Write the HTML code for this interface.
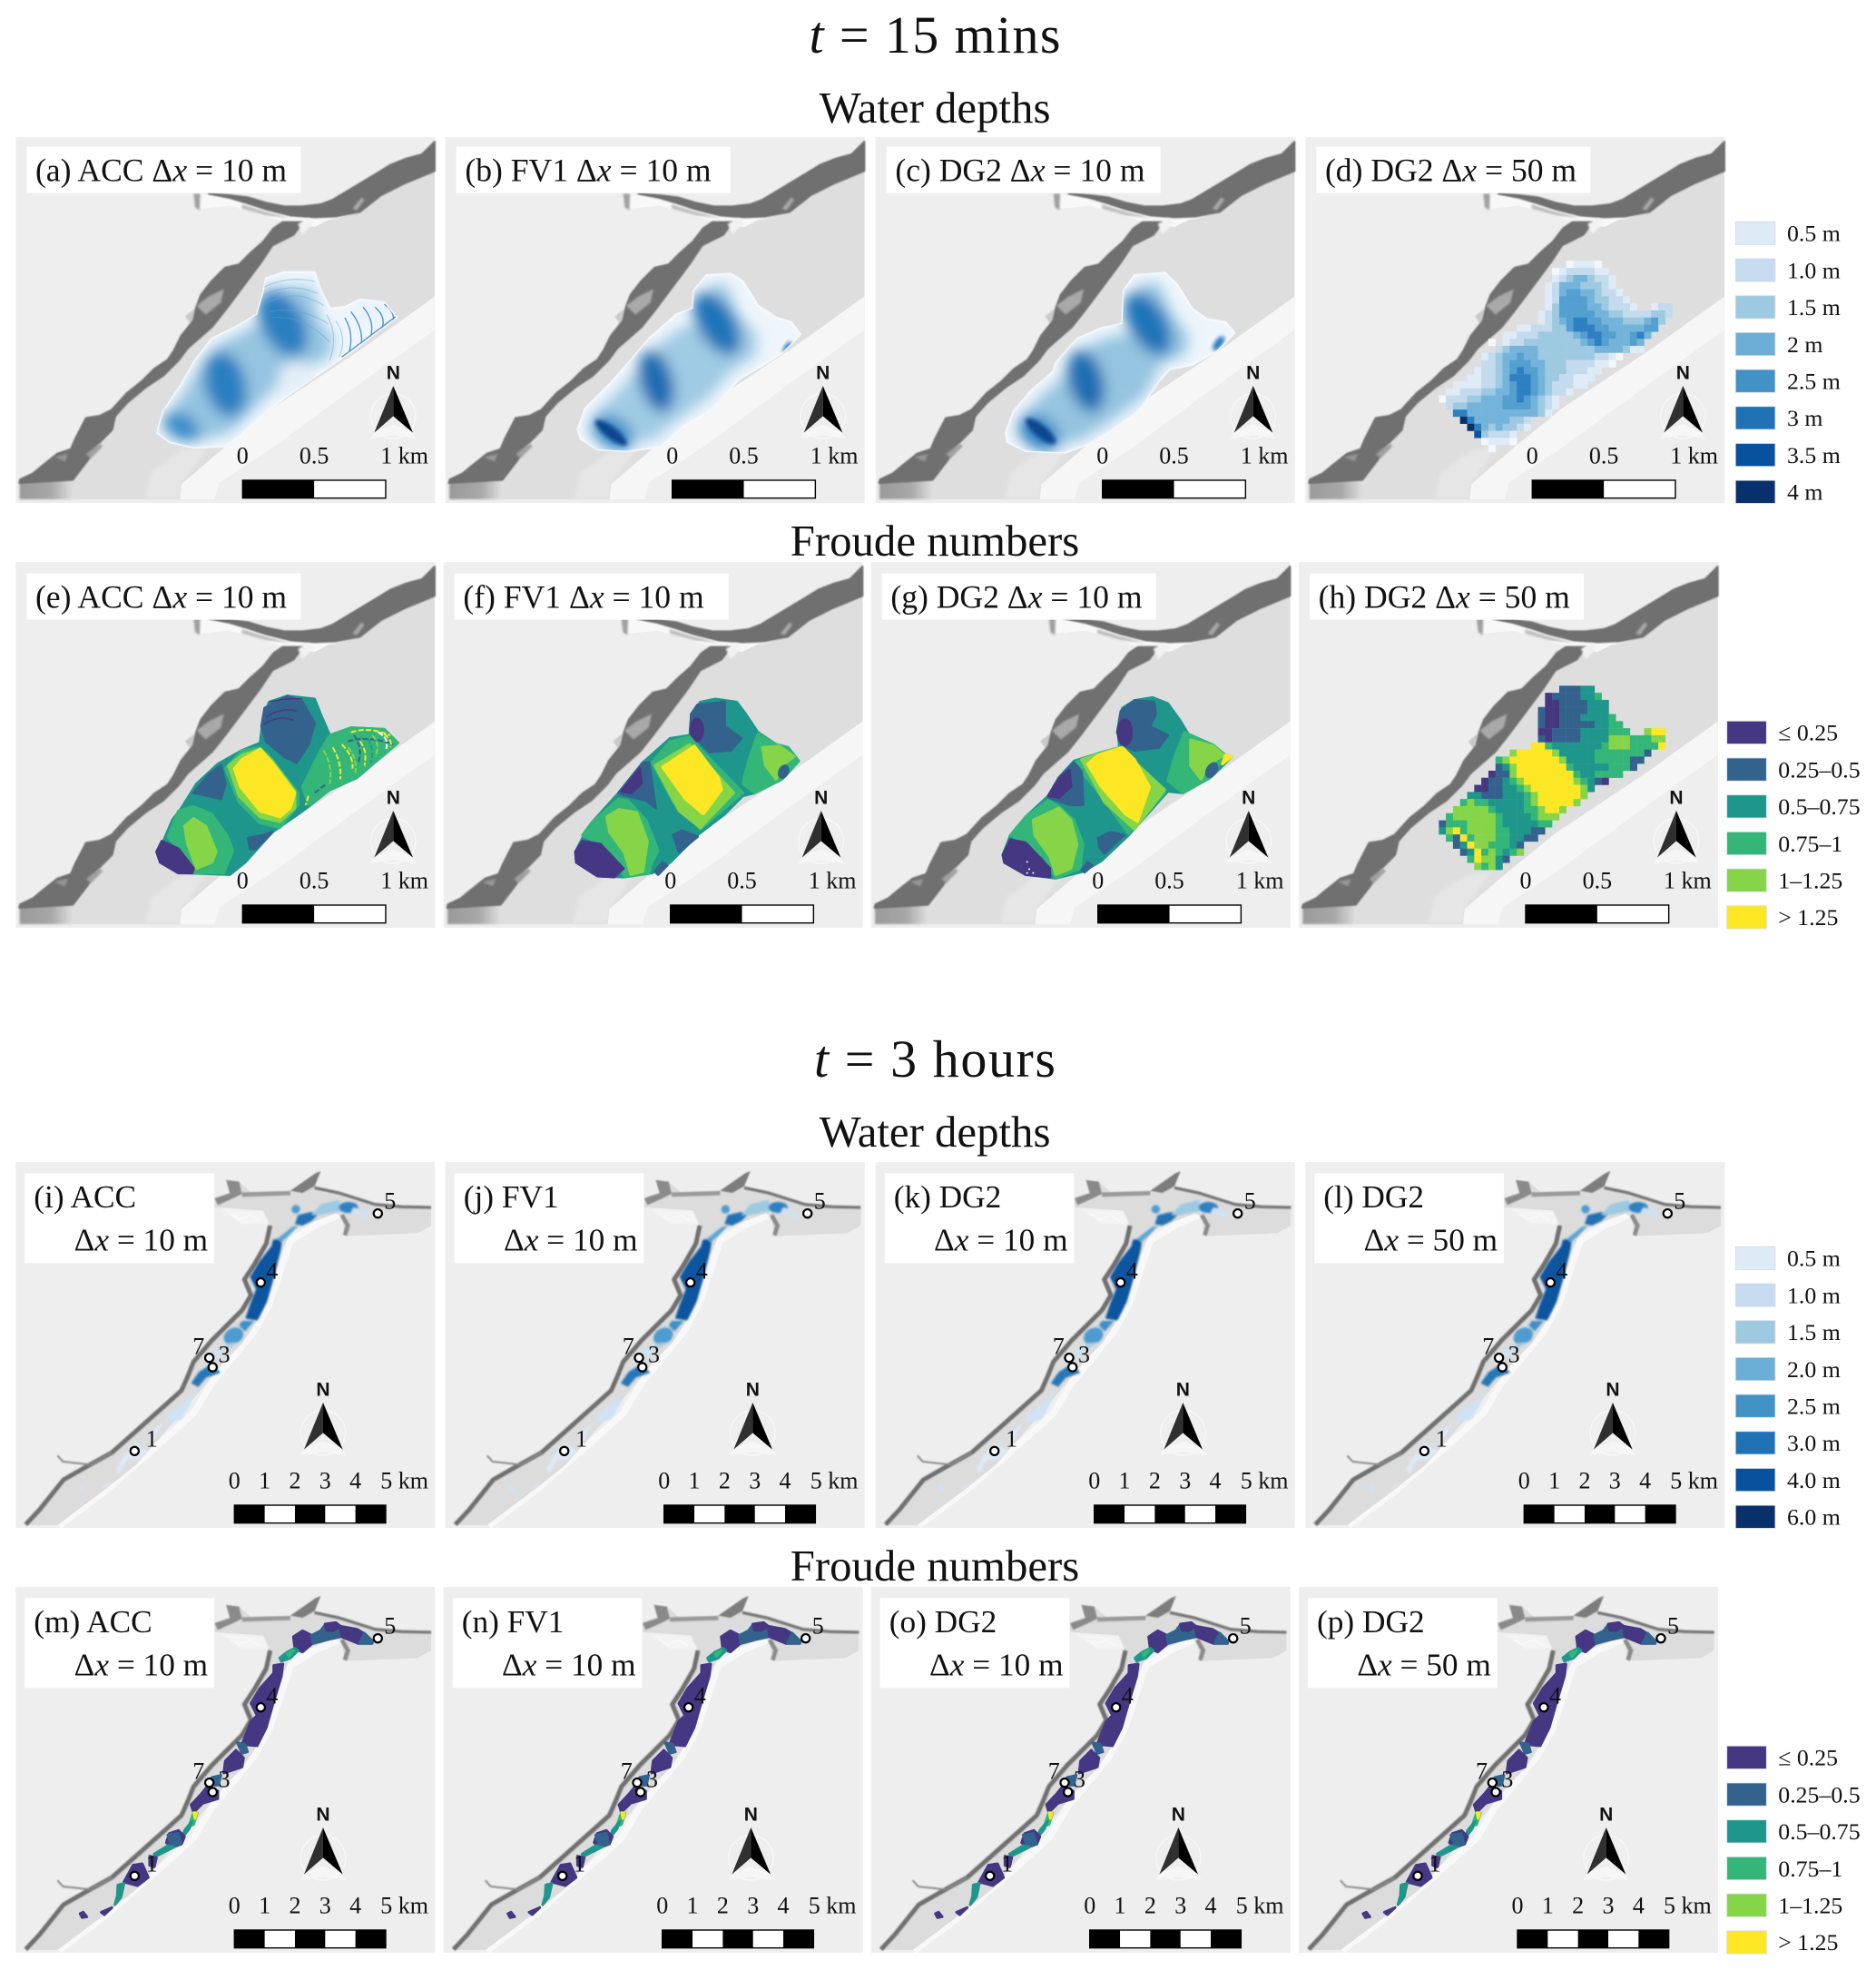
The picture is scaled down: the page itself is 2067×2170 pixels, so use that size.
<!DOCTYPE html>
<html lang="en">
<head>
<meta charset="utf-8">
<title>Flood maps: water depths and Froude numbers</title>
<style>
html,body{margin:0;padding:0;background:#fff;}
svg{display:block;}
text{font-family:"Liberation Serif","Noto Serif CJK SC",serif;fill:#111;}
.v0,.v1,.v2,.v3,.v4,.v5{stroke-width:9;stroke-linejoin:round;}
.v0{fill:#453781;stroke:#453781}.v1{fill:#33638d;stroke:#33638d}.v2{fill:#1f968b;stroke:#1f968b}.v3{fill:#34b679;stroke:#34b679}.v4{fill:#86d549;stroke:#86d549}.v5{fill:#fde725;stroke:#fde725}
</style>
</head>
<body>
<svg id="figure" xmlns="http://www.w3.org/2000/svg" width="2067" height="2170" viewBox="0 0 2067 2170">
<defs>
<filter id="b2" x="-5%" y="-5%" width="110%" height="110%"><feGaussianBlur stdDeviation="2.2"/></filter>
<filter id="b3" x="-10%" y="-10%" width="120%" height="120%"><feGaussianBlur stdDeviation="3"/></filter>
<filter id="b6" x="-30%" y="-30%" width="160%" height="160%"><feGaussianBlur stdDeviation="6"/></filter>
<filter id="b22" x="-30%" y="-30%" width="160%" height="160%"><feGaussianBlur stdDeviation="22"/></filter>
<linearGradient id="leftPatch" x1="0" x2="1" y1="0" y2="0"><stop offset="0" stop-color="#9a9a9a"/><stop offset=".6" stop-color="#a8a8a8"/><stop offset="1" stop-color="#dedede"/></linearGradient>

<clipPath id="clip-a"><polygon points="520,1040 540,970 600,880 640,810 700,730 780,690 850,650 870,580 880,530 940,510 1040,510 1060,570 1090,630 1140,625 1190,600 1270,610 1310,660 1240,710 1170,765 1060,840 960,910 880,970 790,1050 740,1085 640,1088 560,1070"/></clipPath>
<clipPath id="clip-b"><polygon points="455,1030 480,960 560,880 640,790 690,730 780,650 835,630 840,570 880,520 960,515 1000,540 1050,620 1110,660 1160,675 1190,715 1130,775 1060,820 990,860 900,960 800,1020 730,1085 620,1100 520,1095 465,1060"/></clipPath>
<clipPath id="clip-c"><polygon points="445,1040 470,970 530,900 600,840 610,810 680,730 760,695 830,680 835,570 870,520 970,512 1010,550 1060,630 1110,665 1170,675 1200,710 1140,770 1060,815 985,830 950,870 880,970 780,1040 710,1080 640,1105 510,1100 450,1070"/></clipPath>

<g id="base15" transform="translate(-52,-63)">
  <rect x="52" y="63" width="1386" height="1209" fill="#eeeeee"/>
  <polygon fill="#dedede" points="1437,175 1340,215 1260,255 1190,310 1110,335 1000,345 970,385 900,420 860,480 800,560 740,640 700,690 620,760 590,800 540,850 480,890 420,940 380,985 370,1030 320,1080 290,1130 240,1170 220,1190 240,1260 600,1260 600,1210 740,1090 900,960 1200,760 1437,590"/>
  <polygon fill="#e6e6e6" filter="url(#b6)" points="480,1260 500,1170 600,1100 690,1085 600,1210 595,1260"/>
  <polygon fill="#f6f6f6" points="1437,590 1200,760 900,960 740,1090 600,1210 595,1260 710,1260 725,1205 900,1090 1200,870 1437,700"/>
  <rect x="65" y="1195" width="175" height="65" fill="url(#leftPatch)" filter="url(#b3)"/>
  <polygon fill="#f8f8f8" points="660,250 760,265 880,305 960,325 1100,330 1040,360 960,350 860,320 760,290 660,300"/>
  <g filter="url(#b2)">
    <polygon fill="#c9c9c9" points="612,655 650,625 680,640 640,695"/>
    <polygon fill="#6f6f6f" stroke="#6f6f6f" stroke-width="6" stroke-linejoin="round" points="1437,78 1420,95 1395,120 1340,135 1290,155 1250,180 1200,210 1150,240 1100,270 1060,285 1000,292 940,292 880,280 820,262 760,255 690,250 760,264 820,282 880,302 960,322 1040,328 1110,325 1190,310 1260,255 1340,215 1437,175"/>
    <polygon fill="#6f6f6f" stroke="#6f6f6f" stroke-width="8" stroke-linejoin="round" points="935,345 905,365 870,410 830,445 790,485 745,495 700,540 665,585 650,625 640,670 600,720 575,770 555,800 510,830 470,870 420,910 370,965 330,985 285,992 280,1002 250,1060 235,1095 190,1110 140,1150 110,1175 68,1195 65,1205 240,1195 290,1130 320,1080 370,1030 380,985 420,940 480,890 540,850 590,800 620,760 700,690 740,640 800,560 860,480 900,420 970,385 1000,345"/>
  </g>
  <g filter="url(#b3)">
    <polygon fill="#a9a9a9" points="650,620 690,590 740,565 730,610 680,650"/>
    <polygon fill="#a8a8a8" points="1165,300 1195,262 1205,270 1180,305"/>
    <polygon fill="#f2f2f2" points="985,350 1020,330 1040,345 1000,385"/>
    <polygon fill="#a0a0a0" points="285,1110 330,1075 340,1085 300,1125"/>
    <polygon fill="#a0a0a0" points="640,250 662,250 660,305 645,295"/>
    <polygon fill="#bdbdbd" points="800,285 880,310 960,330 880,322 800,300"/>
    <polygon fill="#969696" points="180,1120 225,1110 215,1135"/>
  </g>
</g>

<g id="base3h" transform="translate(-52,-30)">
  <rect x="52" y="30" width="1386" height="1209" fill="#eeeeee"/>
  <polyline fill="none" stroke="#f8f8f8" stroke-width="22" points="195,1232 350,1116 520,968 640,860 700,760 840,590 890,500 930,380 960,290 1040,240 1120,205 1180,210"/>
  <polygon fill="#dcdcdc" points="710,148 760,130 745,88 790,95 830,130 960,125 1040,70 1060,60 1040,110 1120,130 1240,170 1425,180 1425,240 1380,265 1140,275 1130,210 1110,200 1000,240 960,265 930,330 900,420 870,520 840,570 800,630 740,690 700,740 650,800 600,860 520,950 450,1030 350,1110 190,1230 85,1230 130,1180 210,1080 270,1040 370,990 460,910 560,820 600,780 620,740 640,680 700,610 800,510 820,470 800,420 830,370 880,290 890,240 870,190 710,180"/>
  <polygon fill="#f4f4f4" filter="url(#b3)" points="730,185 870,195 890,235 800,235 760,205"/>
  <g filter="url(#b2)">
    <polyline fill="none" stroke="#6f6f6f" stroke-width="15" stroke-linejoin="round" points="85,1228 130,1180 210,1080 280,1040 370,990 460,910 550,830 600,785 620,740 640,690 700,620 800,520 830,470 808,418 840,370 880,300 893,240"/>
    <polygon fill="#8a8a8a" points="710,150 760,133 748,90 790,95 800,135 770,150 720,172"/>
    <polygon fill="#9a9a9a" points="800,130 960,126 960,140 800,145"/>
    <polygon fill="#7d7d7d" points="960,125 1042,68 1060,60 1040,110 1000,132"/>
    <polyline fill="none" stroke="#777" stroke-width="10" stroke-linejoin="round" points="1040,115 1120,132 1240,170 1330,178 1425,180"/>
    <polyline fill="none" stroke="#8a8a8a" stroke-width="6" stroke-linejoin="round" points="190,1000 208,1020 300,1030 370,990"/>
    <polyline fill="none" stroke="#8a8a8a" stroke-width="14" points="1130,205 1150,240 1140,272"/>
  </g>
  <polyline fill="none" stroke="#f8f8f8" stroke-width="6" points="760,200 790,220 830,205 860,225"/>
</g>

<g id="flood-a" transform="translate(-52,-63)">
  <polygon fill="#eef5fb" stroke="#f4f9fd" stroke-width="8" stroke-linejoin="round" points="520,1040 540,970 600,880 640,810 700,730 780,690 850,650 870,580 880,530 940,510 1040,510 1060,570 1090,630 1140,625 1190,600 1270,610 1310,660 1240,710 1170,765 1060,840 960,910 880,970 790,1050 740,1085 640,1088 560,1070"/>
  <g clip-path="url(#clip-a)">
    <g filter="url(#b22)">
      <polygon fill="#94c4e0" points="540,1040 560,975 620,890 660,820 720,750 800,710 870,670 890,600 900,560 1030,560 1060,680 1100,720 1090,790 1000,830 900,900 760,1040 640,1070 570,1050"/>
      <ellipse cx="745" cy="880" rx="68" ry="110" fill="#2a7fc0" transform="rotate(-15 745 880)"/>
      <ellipse cx="600" cy="1020" rx="65" ry="42" fill="#378cc7" transform="rotate(30 600 1020)"/>
      <ellipse cx="935" cy="680" rx="70" ry="118" fill="#2a7fc0" transform="rotate(-28 935 680)"/>
      <ellipse cx="1240" cy="640" rx="70" ry="30" fill="#e8f2f9"/>
      <ellipse cx="980" cy="860" rx="60" ry="55" fill="#e4eff8"/>
    </g>
    <g fill="none" stroke="#5da6d5" stroke-width="3" opacity=".5">
      <path d="M870 560 Q950 520 1040 540"/><path d="M875 585 Q960 540 1050 580"/><path d="M885 610 Q980 560 1070 620"/>
      <path d="M890 640 Q990 620 1085 680"/><path d="M900 660 Q1000 650 1090 740"/><path d="M1080 650 Q1120 720 1090 800"/><path d="M1110 670 Q1150 730 1120 790"/>
    </g>
    <g fill="none" stroke="#2577b8" stroke-width="4" opacity=".8">
      <path d="M1160 640 Q1200 690 1195 745"/><path d="M1200 625 Q1240 670 1225 725"/><path d="M1240 625 Q1280 660 1260 700"/><path d="M1270 615 Q1305 640 1300 670"/>
      <path d="M1130 790 L1310 655"/><path d="M1140 660 Q1170 710 1155 770"/>
    </g>
  </g>
</g>

<g id="flood-b" transform="translate(-17,-63)">
  <polygon fill="#eef5fb" stroke="#f4f9fd" stroke-width="8" stroke-linejoin="round" points="455,1030 480,960 560,880 640,790 690,730 780,650 835,630 840,570 880,520 960,515 1000,540 1050,620 1110,660 1160,675 1190,715 1130,775 1060,820 990,860 900,960 800,1020 730,1085 620,1100 520,1095 465,1060"/>
  <g clip-path="url(#clip-b)">
    <g filter="url(#b22)">
      <polygon fill="#a0cbe4" points="490,1040 510,980 590,900 670,810 720,750 800,690 860,680 870,590 900,550 950,550 980,640 1050,720 1040,790 970,830 880,930 780,1000 710,1060 620,1080 530,1070"/>
      <ellipse cx="715" cy="870" rx="55" ry="105" fill="#1a6db2" transform="rotate(-15 715 870)"/>
      <ellipse cx="915" cy="680" rx="62" ry="115" fill="#1f75b8" transform="rotate(-30 915 680)"/>
      <ellipse cx="570" cy="1040" rx="75" ry="50" fill="#3489c6" transform="rotate(35 570 1040)"/>
    </g>
    <ellipse cx="565" cy="1040" rx="65" ry="19" fill="#08478f" filter="url(#b6)" transform="rotate(38 565 1040)"/>
    <ellipse cx="1148" cy="758" rx="10" ry="22" fill="#2a7ec0" filter="url(#b6)" transform="rotate(35 1148 758)"/>
  </g>
</g>

<g id="flood-c" transform="translate(-14,-63)">
  <polygon fill="#eef5fb" stroke="#f4f9fd" stroke-width="8" stroke-linejoin="round" points="445,1040 470,970 530,900 600,840 610,810 680,730 760,695 830,680 835,570 870,520 970,512 1010,550 1060,630 1110,665 1170,675 1200,710 1140,770 1060,815 985,830 950,870 880,970 780,1040 710,1080 640,1105 510,1100 450,1070"/>
  <g clip-path="url(#clip-c)">
    <g filter="url(#b22)">
      <polygon fill="#94c4e0" points="480,1050 500,985 560,920 630,860 640,830 700,760 780,725 860,710 865,590 890,550 950,545 990,640 1050,720 1040,780 960,810 900,920 780,1010 700,1060 630,1080 520,1080"/>
      <ellipse cx="710" cy="870" rx="58" ry="105" fill="#1a6db2" transform="rotate(-15 710 870)"/>
      <ellipse cx="915" cy="680" rx="62" ry="115" fill="#1f75b8" transform="rotate(-30 915 680)"/>
      <ellipse cx="555" cy="1040" rx="75" ry="52" fill="#2f82c2" transform="rotate(35 555 1040)"/>
    </g>
    <ellipse cx="560" cy="1035" rx="62" ry="20" fill="#08478f" filter="url(#b6)" transform="rotate(40 560 1035)"/>
    <ellipse cx="1148" cy="745" rx="13" ry="28" fill="#2a7ec0" filter="url(#b6)" transform="rotate(35 1148 745)"/>
  </g>
</g>

<g id="froude-e" transform="translate(-52,-27)">
  <polygon class="v2" points="518,985 540,950 570,880 600,840 650,760 720,695 800,650 860,625 870,540 890,490 950,470 1040,480 1060,530 1090,600 1160,575 1270,580 1315,625 1250,680 1180,740 1090,780 1000,850 900,920 810,1020 760,1060 620,1055 530,1020"/>
  <polygon class="v1" points="875,510 950,470 1000,490 1040,560 1020,630 980,690 940,670 880,620 865,570"/>
  <g fill="none" stroke="#453781" stroke-width="4"><path d="M880 540 Q930 505 980 520"/><path d="M870 565 Q920 530 970 550"/><path d="M890 490 Q950 475 1000 480"/></g>
  <polygon class="v3" points="1060,650 1090,600 1160,575 1270,580 1315,625 1250,680 1180,740 1090,780 1020,830 1000,770"/>
  <g fill="none" stroke-width="6" stroke-dasharray="18 7">
    <path d="M1160 590 Q1220 570 1290 600" stroke="#fde725"/><path d="M1150 620 Q1220 600 1300 630" stroke="#33638d"/><path d="M1130 630 Q1170 670 1165 710" stroke="#fde725"/>
    <path d="M1190 620 Q1215 650 1205 700" stroke="#fde725"/><path d="M1230 600 Q1260 630 1240 670" stroke="#86d549"/><path d="M1070 650 Q1100 700 1090 760" stroke="#86d549"/>
    <path d="M1100 640 Q1130 690 1125 745" stroke="#fde725"/><path d="M1170 600 Q1200 640 1185 690" stroke="#33638d"/><path d="M1250 590 Q1290 610 1275 650" stroke="#fff"/>
    <path d="M1040 790 L1080 760" stroke="#33638d"/><path d="M1150 640 Q1180 670 1175 725" stroke="#86d549"/><path d="M1270 595 Q1300 620 1290 640" stroke="#fde725"/>
    <path d="M1215 610 Q1240 650 1225 690" stroke="#1f968b"/><path d="M1020 800 L1010 830" stroke="#fde725"/>
  </g>
  <polygon class="v3" points="745,710 800,650 860,640 900,680 985,790 985,830 925,905 860,890 790,820"/>
  <polygon class="v4" points="755,700 800,665 860,645 900,685 975,785 975,840 925,885 860,870 790,800"/>
  <polygon class="v5" points="775,710 800,680 860,645 900,690 975,790 960,840 925,870 860,850 795,770"/>
  <polygon class="v1" points="640,790 690,730 730,700 745,760 730,810 690,800"/>
  <polygon class="v3" points="555,935 590,850 640,835 700,860 750,930 770,980 740,1055 640,1055 610,1000"/>
  <polygon class="v4" points="610,900 640,875 680,900 715,985 700,1020 650,1040 620,960"/>
  <polygon class="v0" points="518,985 535,950 590,975 640,1040 635,1055 590,1055 530,1020"/>
  <polygon class="v1" points="820,940 870,930 900,920 845,975 828,975"/>
</g>

<g id="froude-f" transform="translate(-11,-27)">
  <polygon class="v2" points="447,985 470,940 500,890 590,790 670,690 760,610 825,600 830,530 860,490 910,480 980,490 1010,530 1050,590 1110,630 1150,640 1185,685 1120,750 1040,790 1000,800 940,860 850,930 760,1020 700,1055 610,1068 520,1065 450,1020"/>
  <polygon class="v1" points="850,500 940,490 940,570 995,610 960,650 890,655 850,615 830,590 830,530"/>
  <ellipse class="v0" cx="848" cy="582" rx="20" ry="36"/>
  <polygon class="v3" points="1050,595 1110,630 1150,640 1185,685 1130,745 1040,790 1000,760 1020,680"/>
  <polygon class="v4" points="1065,640 1120,635 1170,670 1130,700 1110,745 1075,700"/>
  <ellipse class="v1" cx="1135" cy="720" rx="13" ry="20" transform="rotate(25 1135 720)"/>
  <polygon class="v3" points="700,690 760,620 825,605 850,635 1000,790 860,910 770,820"/>
  <polygon class="v4" points="710,700 825,630 970,790 860,905 790,850"/>
  <polygon class="v5" points="735,705 840,635 920,740 930,780 870,860 810,810"/>
  <polygon class="v1" points="590,790 670,690 690,690 712,840 680,815 600,795"/>
  <polygon class="v0" points="600,785 660,710 665,760 630,790"/>
  <polygon class="v3" points="470,930 500,890 590,810 620,815 680,880 720,980 700,1020 690,1055 610,1068 580,1010 530,960"/>
  <polygon class="v4" points="550,870 590,845 650,855 685,950 670,1050 630,1060 610,990 560,920"/>
  <polygon class="v0" points="447,985 470,950 530,960 605,1040 575,1068 520,1065 450,1020"/>
  <polygon class="v1" points="770,930 800,915 850,935 790,985"/>
  <polygon class="v1" points="710,1050 735,1020 750,1030 720,1060"/>
</g>

<g id="froude-g" transform="translate(-29,-27)">
  <polygon class="v2" points="465,995 490,930 540,870 615,800 650,740 700,685 780,660 850,640 845,580 860,510 900,485 960,475 1010,495 1050,550 1080,600 1160,632 1200,665 1222,670 1150,740 1060,790 1010,785 880,930 790,1015 730,1050 640,1072 540,1060 470,1020"/>
  <polygon class="v1" points="855,520 900,485 965,490 970,530 950,570 1010,600 980,640 900,650 860,630 843,590"/>
  <ellipse class="v0" cx="868" cy="590" rx="22" ry="42"/>
  <polygon class="v3" points="1065,590 1160,632 1200,665 1150,740 1060,790 1010,750 1030,680"/>
  <polygon class="v4" points="1085,615 1160,635 1195,665 1140,700 1120,745 1085,700"/>
  <ellipse class="v1" cx="1155" cy="715" rx="14" ry="24" transform="rotate(30 1155 715)"/>
  <polygon class="v5" points="1200,665 1222,670 1190,695"/>
  <polygon class="v3" points="700,690 780,660 850,640 1000,790 880,925 790,800"/>
  <polygon class="v4" points="725,680 850,640 1000,780 900,910 800,820"/>
  <polygon class="v5" points="745,695 780,665 860,640 900,680 950,770 910,885 870,860 790,770"/>
  <polygon class="v1" points="650,740 700,690 725,720 730,830 690,830 615,805"/>
  <polygon class="v0" points="615,800 650,745 685,715 690,770 650,805"/>
  <polygon class="v3" points="490,930 540,870 615,815 650,835 700,880 730,960 720,1040 640,1072 600,1000 520,950"/>
  <polygon class="v4" points="565,880 650,840 690,880 710,960 690,1040 640,1060 620,1000 570,930"/>
  <polygon class="v0" points="465,995 490,945 540,955 620,1040 620,1068 540,1060 470,1020"/>
  <polygon class="v1" points="780,940 820,920 865,930 800,990 785,970"/>
  <polygon class="v1" points="725,1045 745,1020 760,1030 735,1052"/>
  <g fill="#fff"><circle cx="545" cy="1018" r="3"/><circle cx="552" cy="1042" r="3"/><circle cx="565" cy="1055" r="3"/><circle cx="545" cy="1055" r="3"/></g>
</g>

<g id="water3h" transform="translate(-52,-30)">
  <g filter="url(#b3)">
    <polygon fill="#0b559f" stroke="#0b559f" stroke-width="6" stroke-linejoin="round" points="905,290 930,285 925,320 900,420 880,490 850,550 815,545 830,500 850,450 830,410 860,360 900,310"/>
    <polygon fill="#3f8fc8" points="800,555 840,555 810,590 790,570"/>
    <ellipse cx="772" cy="605" rx="34" ry="26" fill="#4e9bd0" transform="rotate(-30 772 605)"/>
    <polygon fill="#a9cfe6" points="745,630 790,625 750,650"/>
    <polygon fill="#2777b8" stroke="#2777b8" stroke-width="5" stroke-linejoin="round" points="660,725 700,700 725,725 680,740 655,770 635,760"/>
    <polygon fill="#cfe2f2" points="700,650 740,640 735,665 712,675"/>
    <polygon fill="#2171b5" points="975,235 985,205 1030,195 1050,205 1030,225 1000,240"/>
    <ellipse cx="978" cy="186" rx="14" ry="14" fill="#4e9bd0"/>
    <polygon fill="#9ecae1" points="1030,205 1060,170 1120,155 1135,190 1060,205"/>
    <ellipse cx="1152" cy="180" rx="32" ry="18" fill="#2f82c2"/>
    <polygon fill="#cfe2f2" points="1170,180 1225,200 1210,215 1160,195"/>
    <polygon fill="#5ca5d4" points="915,285 965,245 985,240 960,268 930,295"/>
    <polygon fill="#d0e2f3" points="555,860 590,835 630,810 645,785 630,830 600,880 545,895"/>
    <polygon fill="#dde9f7" points="500,925 540,890 520,925 510,950 495,945"/>
    <polygon fill="#dde9f7" points="410,1000 445,960 490,985 460,1012 420,1015 395,1060 385,1045"/>
    <polygon fill="#cfe2f2" points="258,1100 272,1095 282,1118 265,1115"/>
    <polygon fill="#dbe9f6" points="335,1105 365,1090 350,1108"/>
  </g>
</g>

<g id="froude3h" transform="translate(-52,-25)">
  <polygon class="v0" points="970,190 1000,170 1030,185 1035,210 1000,240 975,230"/>
  <polygon class="v1" points="1030,185 1060,170 1075,150 1110,145 1125,155 1125,190 1080,200 1035,212"/>
  <polygon class="v0" points="1075,148 1110,143 1125,155 1100,170 1080,168"/>
  <polygon class="v0" points="1125,155 1180,165 1205,180 1185,212 1130,190"/>
  <polygon class="v1" points="1188,212 1205,178 1232,205 1230,212"/>
  <polygon class="v2" points="985,235 960,260 930,270 925,260 950,240 975,228"/>
  <polygon class="v3" points="950,245 970,235 955,255"/>
  <polygon class="v0" points="905,285 935,280 930,320 900,420 880,490 850,550 800,545 830,470 850,450 830,410 860,360 905,310"/>
  <polygon class="v1" points="785,540 810,545 818,570 800,575"/>
  <polygon class="v0" points="745,600 780,565 805,590 800,620 740,640"/>
  <polygon class="v1" points="700,655 730,648 722,680 710,680"/>
  <polygon class="v0" points="665,710 685,685 720,700 720,725 670,740 640,770 632,745"/>
  <polygon class="v3" points="640,770 652,772 640,810 625,815"/>
  <polygon class="v5" points="641,772 650,772 645,790"/>
  <polygon class="v2" points="610,830 635,800 625,825 605,850"/>
  <polygon class="v0" points="560,840 590,830 610,850 600,875 570,885 550,870"/>
  <polygon class="v1" points="555,845 590,840 598,875 570,885"/>
  <polygon class="v2" points="555,880 575,885 515,915 510,908"/>
  <polygon class="v0" points="495,915 517,920 510,950 495,945"/>
  <polygon class="v0" points="410,1000 440,945 470,940 490,985 455,1012"/>
  <polygon class="v2" points="390,1010 410,1005 400,1050 380,1075 388,1045"/>
  <polygon class="v0" points="265,1105 275,1100 287,1115 272,1118"/>
  <polygon class="v0" points="335,1100 370,1085 345,1108"/>
</g>
</defs>

<text x="1030" y="58" font-size="58" text-anchor="middle" textLength="277" lengthAdjust="spacing"><tspan font-style="italic">t</tspan> = 15 mins</text>
<text x="1030" y="135" font-size="48.8" text-anchor="middle">Water depths</text>
<text x="1030" y="612" font-size="48.8" text-anchor="middle">Froude numbers</text>
<text x="1030" y="1186" font-size="58" text-anchor="middle" textLength="266" lengthAdjust="spacing"><tspan font-style="italic">t</tspan> = 3 hours</text>
<text x="1030" y="1263" font-size="48.8" text-anchor="middle">Water depths</text>
<text x="1030" y="1741" font-size="48.8" text-anchor="middle">Froude numbers</text>

<g id="panels"></g>
<g id="legends"></g>
</svg>

<script>
// ---- Data ----
const panelLetters = ["a","b","c","d","e","f","g","h","i","j","k","l","m","n","o","p"];
const schemeNames = ["ACC","FV1","DG2","DG2"];
const resolutions = ["10 m","10 m","10 m","50 m"];
const columnsWaterRow = [17.3,490.7,964.7,1438.3];
const columnsFroudeRow = [17.3,488.7,959.7,1431];
const rowTops = [151,619,1280,1748];

const depthColours = ["#deebf7","#c6dbef","#9ecae1","#6baed6","#4292c6","#2171b5","#08519c","#08306b"];
const depthCellColours = ["#dfebf7","#c4dbee","#9ecae1","#74b3da","#529fd0","#2f80c2","#0b559f","#08306b"];
const froudeColours = ["#453781","#33638d","#1f968b","#34b679","#86d549","#fde725"];
const depthLabels15 = ["0.5 m","1.0 m","1.5 m","2 m","2.5 m","3 m","3.5 m","4 m"];
const depthLabels3h = ["0.5 m","1.0 m","1.5 m","2.0 m","2.5 m","3.0 m","4.0 m","6.0 m"];
const froudeLabels = ["\u2264 0.25","0.25\u20130.5","0.5\u20130.75","0.75\u20131","1\u20131.25","> 1.25"];

const scaleTicks15 = [0,0.5,1];
const scaleLabels15 = ["0","0.5","1 km"];
const scaleTicks3h = [0,1,2,3,4,5];
const scaleLabels3h = ["0","1","2","3","4","5 km"];

const gaugeNames = ["1","3","7","4","5"];

// 50 m grid classes; '.' = dry, 'w' = barely wet, digits = depth class
const depthCells50m = [
"..................w000w",
"................w0111100",
"................012332110",
"...............0133322210",
"...............01344332110",
"...............014444322110",
"...............0244443321110..011",
"..............0124444433221111221",
"..............012345544333222342",
"...........00111224555443333344",
".........001112222234554433453",
".......w.01122222222345433343",
"........123333222222223333200",
"......0123343322222222110w",
"......112344433222111100w",
".....011234544322211100",
"....001123555432211000",
"..0000112345543211100",
".001112233455432110",
"w1112233344543210",
".1223333344443210",
"..55333333333320",
"...7533333221",
"....753232210",
".....621110",
"......w000w",
".......w"
];
// 50 m grid classes; digits = Froude class
const froudeCells50m = [
".................11122",
"...............01111223",
"...............001111222",
"..............1001111222",
"..............10011122223",
"..............100111112233",
"..............0011112222333..455",
"..............101111222244433344",
".............5532222222344433335",
"..........45555542222233333331",
"........345555555422223333311",
"........12455555553222223331",
".......0114555555553223333",
"......011234555555543210",
".....00112234555555542",
"....22111222345555554",
"...34332222234555554",
"..4444432222334554",
".3444444322223444",
"1333444432222233",
"245344443322211",
".3153444332211",
"..1254433321",
"...125343234",
"....354421",
".....4342"
];

// ---- Helpers ----
const svgNS = "http://www.w3.org/2000/svg";
function mk(tag, attrs, parent, txt) {
  const n = document.createElementNS(svgNS, tag);
  for (const k in attrs) n.setAttribute(k, attrs[k]);
  if (txt !== undefined) n.textContent = txt;
  parent.appendChild(n);
  return n;
}
const UNIT = 1/3;
function rel(v) { return v * UNIT; }
const scale15X = v => 750 + v * 473;
const scale3hX = v => 723 + v * 100;
const CELL = 23.4;
const gridX = c => 441 + c * CELL;
const gridYDepth = r => 409 + r * CELL;
const gridXFroude = c => 463 + c * CELL;
const gridYFroude = r => 409 + r * CELL;

const panelsRoot = document.getElementById("panels");
const legendsRoot = document.getElementById("legends");

function addUse(id, parent) {
  const u = mk("use", {href:"#"+id}, parent);
  
  
  return u;
}

function drawDepthGrid(parent) {
  depthCells50m.forEach((row, r) => {
    [...row].forEach((ch, c) => {
      if (ch === ".") return;
      const fill = ch === "w" ? "#f4f8fd" : depthCellColours[+ch];
      const cell = mk("rect", {x:gridX(c), y:gridYDepth(r), width:CELL+0.6, height:CELL+0.6, fill:fill}, parent);
      
      
    });
  });
}
function drawFroudeGrid(parent) {
  froudeCells50m.forEach((row, r) => {
    [...row].forEach((ch, c) => {
      if (ch === ".") return;
      const cell = mk("rect", {x:gridXFroude(c), y:gridYFroude(r), width:CELL+0.6, height:CELL+0.6, fill:froudeColours[+ch]}, parent);
      
      
    });
  });
}

function drawNorth(g, px, py, dx, dy) {
  const map = mk("g", {transform:`translate(${px},${py}) scale(${UNIT}) translate(${dx},${dy})`}, g);
  
  
  mk("circle", {cx:1248, cy:922, r:74, fill:"none", stroke:"#f8f8f8", "stroke-width":4}, map);
  mk("circle", {cx:1248, cy:922, r:60, fill:"none", stroke:"#f4f4f4", "stroke-width":2}, map);
  mk("polygon", {points:"1172,997 1188,972 1248,950 1308,972 1324,997 1248,985", fill:"#f8f8f8", opacity:".75"}, map);
  mk("polygon", {points:"1248,822 1185,977 1248,922", fill:"#303030"}, map);
  mk("polygon", {points:"1248,822 1313,977 1248,922", fill:"#000"}, map);
  const n = mk("text", {x:px + rel(1248 + dx), y:py + rel(800 + dy), "font-size":21, "font-weight":"bold", "text-anchor":"middle", style:'font-family:"Liberation Sans",sans-serif'}, g, "N");
  
  
}

function drawScale(g, px, py, is3h) {
  const x = is3h ? scale3hX : scale15X;
  const ticks = is3h ? scaleTicks3h : scaleTicks15;
  const labels = is3h ? scaleLabels3h : scaleLabels15;
  const bar = mk("g", {}, g);
  
  
  const y0 = py + rel(1134), h = rel(59);
  const left = px + rel(x(ticks[0])), right = px + rel(x(ticks[ticks.length-1]));
  mk("rect", {x:left, y:y0, width:right-left, height:h, fill:"#fff", stroke:"#000", "stroke-width":1.4}, bar);
  for (let i = 0; i < ticks.length - 1; i += is3h ? 2 : 1) {
    if (!is3h && i > 0) break;
    const a = px + rel(x(ticks[i])), b = px + rel(x(ticks[i+1]));
    mk("rect", {x:a, y:y0, width:b-a, height:h, fill:"#000"}, bar);
  }
  ticks.forEach((t, i) => {
    const last = i === ticks.length - 1;
    const lab = mk("text", {
      x: px + rel(x(t) + (last ? -17 : 0)),
      y: py + rel(1078),
      "font-size": 26,
      "text-anchor": last ? "start" : "middle"
    }, g, labels[i]);
    
    
  });
}

function addDeltaLabel(parent, x, y, res) {
  const t = mk("text", {x:x, y:y, "font-size":35.3}, parent);
  
  
  t.appendChild(document.createTextNode("\u0394"));
  mk("tspan", {"font-style":"italic"}, t, "x");
  t.appendChild(document.createTextNode(" = " + res));
  return t;
}

function drawPanelLabel(g, px, py, rowIdx, colIdx, letter) {
  const name = "(" + letter + ") " + schemeNames[colIdx];
  if (rowIdx < 2) {
    const top = rowIdx === 0 ? 32 : 38;
    const box = mk("rect", {x:px + rel(36), y:py + rel(top), width:rel(906), height:rel(153), fill:"#fff"}, g);
    
    
    const by = py + rel(top + 113);
    const t = mk("text", {x:px + rel(65), y:by, "font-size":35.6}, g);
    
    
    t.appendChild(document.createTextNode(name + " \u0394"));
    mk("tspan", {"font-style":"italic"}, t, "x");
    t.appendChild(document.createTextNode(" = " + resolutions[colIdx]));
  } else {
    const box = mk("rect", {x:px + rel(30), y:py + rel(37), width:rel(626), height:rel(297), fill:"#fff"}, g);
    
    
    const t = mk("text", {x:px + rel(60), y:py + rel(150), "font-size":35.3}, g, name);
    
    
    addDeltaLabel(g, px + rel(193), py + rel(292), resolutions[colIdx]);
  }
}

const gaugeX = [393,651,640,810,1197];
const gaugeY = [955,678,647,398,170];
const gaugeLabelX = [430,670,585,828,1218];
const gaugeLabelY = [940,662,635,385,155];

function drawGauges(g, px, py) {
  gaugeNames.forEach((nm, i) => {
    const c = mk("circle", {cx:px + rel(gaugeX[i]), cy:py + rel(gaugeY[i]), r:4.6, fill:"#fff", stroke:"#000", "stroke-width":2.2}, g);
    
    
    const l = mk("text", {x:px + rel(gaugeLabelX[i]), y:py + rel(gaugeLabelY[i]), "font-size":26}, g, nm);
    
    
  });
}

// ---- Panels ----
panelLetters.forEach((letter, idx) => {
  const rowIdx = Math.floor(idx / 4), colIdx = idx % 4;
  const isFroude = rowIdx % 2 === 1;
  const is3h = rowIdx >= 2;
  const px = (isFroude ? columnsFroudeRow : columnsWaterRow)[colIdx];
  const py = rowTops[rowIdx];

  const g = mk("g", {}, panelsRoot);
  
  

  const map = mk("g", {transform:`translate(${px},${py}) scale(${UNIT})`}, g);
  
  

  addUse(is3h ? "base3h" : "base15", map);

  if (!is3h) {
    if (!isFroude) {
      if (colIdx === 3) drawDepthGrid(map);
      else addUse(["flood-a","flood-b","flood-c"][colIdx], map);
    } else {
      if (colIdx === 3) drawFroudeGrid(map);
      else addUse(["froude-e","froude-f","froude-g"][colIdx], map);
    }
  } else {
    addUse(isFroude ? "froude3h" : "water3h", map);
    drawGauges(g, px, py);
  }

  drawPanelLabel(g, px, py, rowIdx, colIdx, letter);
  drawNorth(g, px, py, is3h ? -232 : 0, is3h ? -27 : 0);
  drawScale(g, px, py, is3h);
});

// ---- Legends ----
function drawLegend(name, labels, colours, swatchX, textX, topY) {
  const lg = mk("g", {}, legendsRoot);
  
  
  labels.forEach((lab, i) => {
    const y = topY + i * 40.7;
    const s = mk("rect", {x:swatchX, y:y, width:43.6, height:25.2, fill:colours[i], stroke:"#d3dbe4", "stroke-width":0.8}, lg);
    
    
    const t = mk("text", {x:textX, y:y + 21.4, "font-size":25.8}, lg, lab);
    
    
  });
}
drawLegend("legend-depth-15-mins", depthLabels15, depthColours, 1912.3, 1969, 244.3);
drawLegend("legend-froude-15-mins", froudeLabels, froudeColours, 1902.7, 1959.3, 794.3);
drawLegend("legend-depth-3-hours", depthLabels3h, depthColours, 1912.3, 1969, 1373.3);
drawLegend("legend-froude-3-hours", froudeLabels, froudeColours, 1902.7, 1959.3, 1923.3);
</script>
</body>
</html>
